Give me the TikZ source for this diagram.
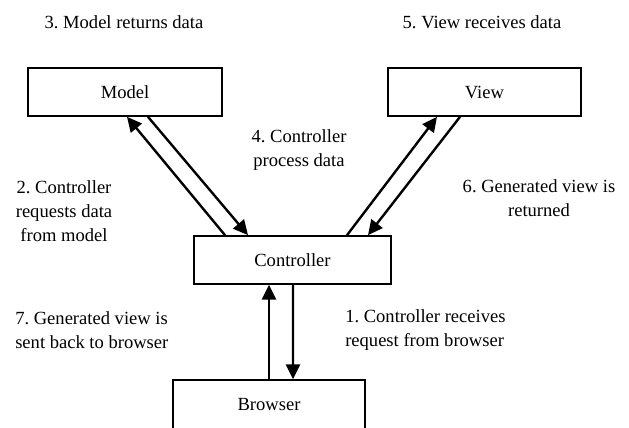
\documentclass[tikz,border=0pt]{standalone}
\usepackage{fontspec}
\setmainfont{Liberation Serif}
\usepackage{tikz}
\usetikzlibrary{arrows.meta, positioning}
\frenchspacing
\tikzset{%
	every box/.style={
		draw,
		line width=1.2pt,
		minimum height=1.2cm,
		inner sep=0pt
	},
	flow/.style={
		line width=1.7pt,
		-{Triangle[length=10.5pt, width=10pt]}
	},
	step text/.style={
		align=center,
		inner sep=0pt
	},
}

\begin{document}
\begin{tikzpicture}[font=\rmfamily\fontsize{13.2}{17}\selectfont]
			\useasboundingbox (0,0) rectangle (15.725,10.675);
			
			% Draw the boxes
			\node[every box, minimum width=4.85cm] (model) at (3.125,8.375) {Model};
			\node[every box, minimum width=4.825cm] (view) at (12.1125,8.375) {View};
			\node[every box, minimum width=4.925cm] (controller) at (7.3125,4.175) {Controller};
			\node[every box, minimum width=4.8cm, minimum height=1.25cm] (browser) at (6.725,0.55) {Browser};
			
			% Draw the arrows between controller and model
			\draw[flow] ([xshift=-1.6875cm]controller.north) -- ([xshift=0.05cm]model.south);
			\draw[flow] ([xshift=0.575cm]model.south) -- ([xshift=-1.1125cm]controller.north);
			
			% Draw the arrows between controller and view
			\draw[flow] ([xshift=1.3625cm]controller.north) -- ([xshift=-1.1875cm]view.south);
			\draw[flow] ([xshift=-0.6125cm]view.south) -- ([xshift=1.8875cm]controller.north);
			
			% Draw the arrows between browser and controller
			\draw[flow] (browser.north) -- ([xshift=-0.5875cm]controller.south);
			\draw[flow] ([xshift=0.0125cm]controller.south) -- ([xshift=0.6cm]browser.north);
			
			% Draw the steps
			\node[step text] (s3) at (3.1,10.125) {3. Model returns data};
			\node[step text] (s5) at (12.05,10.125) {5. View receives data};
			\node[step text] (s4) at (7.475,6.925) {4. Controller\\process data};
			\node[step text] (s2) at (1.6,5.4) {2. Controller\\requests data\\from model};
			\node[step text] (s6) at (13.475,5.7125) {6. Generated view is\\returned};
			\node[step text, align=left, anchor=west] (s7) at (0.375,2.425) {7. Generated view is\\sent back to browser};
			\node[step text, align=left, anchor=west] (s1) at (8.625,2.425) {1. Controller receives\\request from browser};
		\end{tikzpicture}
\end{document}
